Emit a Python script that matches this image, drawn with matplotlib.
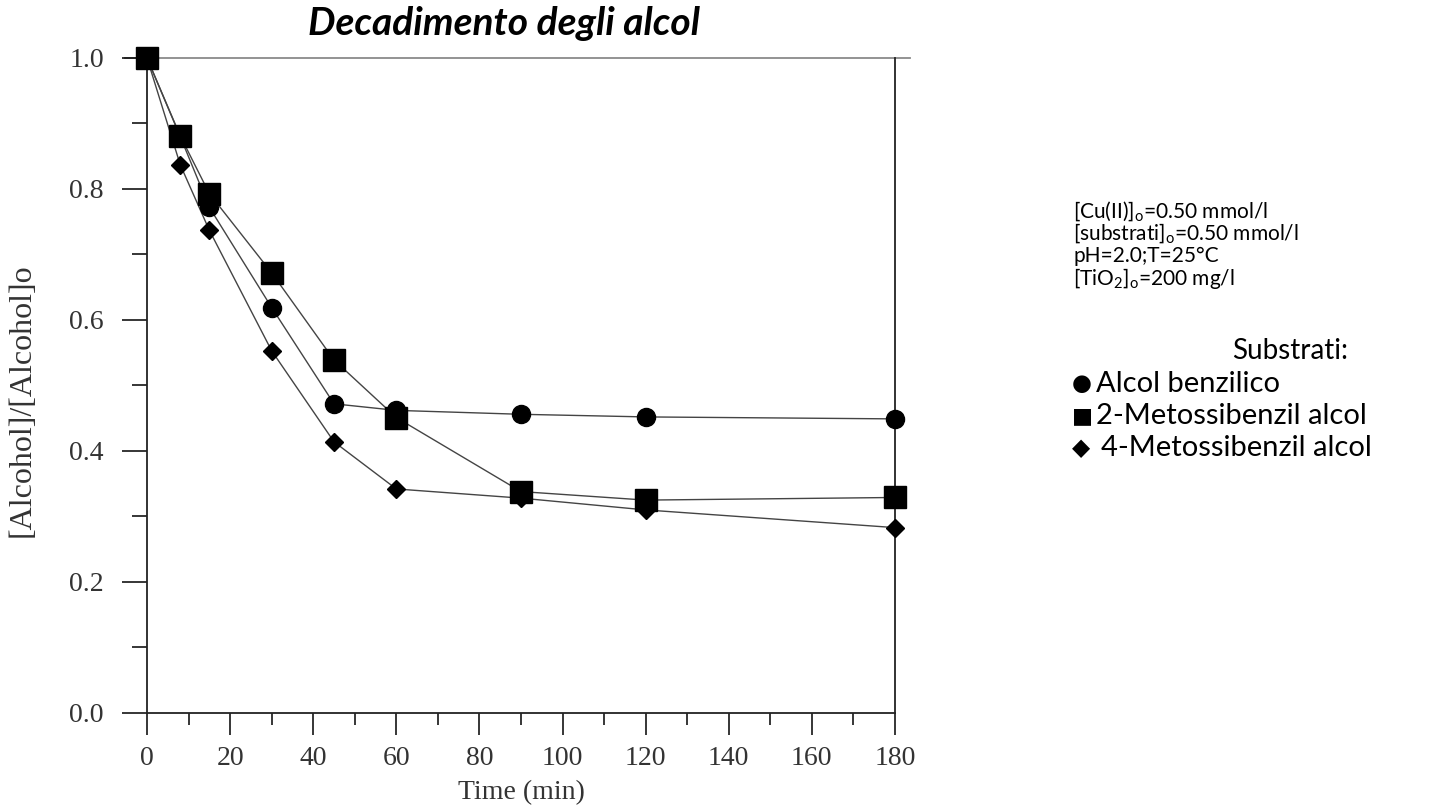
import matplotlib
matplotlib.use("Agg")
import matplotlib.pyplot as plt
from matplotlib.ticker import MultipleLocator

# data
time_min = [0, 8, 15, 30, 45, 60, 90, 120, 180]
alcol_benzilico = [1.0, 0.88, 0.772, 0.619, 0.472, 0.462, 0.456, 0.452, 0.449]
metossi_2 = [1.0, 0.881, 0.793, 0.672, 0.539, 0.451, 0.338, 0.325, 0.329]
metossi_4 = [1.0, 0.837, 0.737, 0.553, 0.414, 0.342, 0.328, 0.310, 0.283]

x_ticks = [0, 20, 40, 60, 80, 100, 120, 140, 160, 180]
y_ticks = [0.0, 0.2, 0.4, 0.6, 0.8, 1.0]

conditions = [
    "[Cu(II)]$_\\mathrm{o}$=0.50 mmol/l",
    "[substrati]$_\\mathrm{o}$=0.50 mmol/l",
    "pH=2.0;T=25°C",
    "[TiO$_\\mathrm{2}$]$_\\mathrm{o}$=200 mg/l",
]
legend_symbols = ["●", "■", "◆"]
legend_names = ["Alcol benzilico", "2-Metossibenzil alcol", "4-Metossibenzil alcol"]

plt.rcParams['mathtext.fontset'] = 'custom'
plt.rcParams['mathtext.rm'] = 'Lato'
plt.rcParams['mathtext.it'] = 'Lato:italic'

fig = plt.figure(figsize=(14.37, 8.10), dpi=100, facecolor='white')
ax = fig.add_axes([0.1023, 0.1198, 0.5205, 0.8086])

line_kw = dict(color='#444444', lw=1.0, mec='black', mfc='black', clip_on=False)
ax.plot(time_min, metossi_4, marker='D', ms=9.5, zorder=3, **line_kw)
ax.plot(time_min, alcol_benzilico, marker='o', ms=13, zorder=4, **line_kw)
ax.plot(time_min, metossi_2, marker='s', ms=15.5, zorder=5, **line_kw)

ax.set_xlim(0, 180)
ax.set_ylim(0, 1.0)
ax.set_xticks(x_ticks)
ax.set_yticks(y_ticks)
ax.set_yticklabels([f"{v:.1f}" for v in y_ticks])
ax.xaxis.set_minor_locator(MultipleLocator(10))
ax.yaxis.set_minor_locator(MultipleLocator(0.1))

for lab in ax.get_xticklabels() + ax.get_yticklabels():
    lab.set_fontfamily('Liberation Serif')
    lab.set_fontsize(20)
    lab.set_color('#333333')

ax.tick_params(axis='x', which='major', direction='out', length=16, width=1.1, pad=8)
ax.tick_params(axis='x', which='minor', direction='out', length=8.5, width=1.1)
ax.tick_params(axis='y', which='major', direction='out', length=18, width=1.1, pad=13)
ax.tick_params(axis='y', which='minor', direction='out', length=11, width=1.1)

for side in ['left', 'bottom', 'right']:
    ax.spines[side].set_linewidth(1.3)
    ax.spines[side].set_color('#222222')
ax.spines['top'].set_visible(False)
# gray top rule, running a bit past the right spine
ax.axhline(1.0, xmin=-0.03, xmax=1.02, color='#8a8a8a', lw=1.3, clip_on=False, zorder=0)

ax.set_xlabel("Time (min)", fontfamily='Liberation Serif', fontsize=20, color='#333333', labelpad=6)
fig.text(22 / 1437, 1 - 400 / 810, "[Alcohol]/[Alcohol]o", rotation=90, ha='center', va='center',
         fontfamily='Liberation Serif', fontsize=23, color='#333333')

fig.text(0.351, 0.971, "Decadimento degli alcol", ha='center', va='center',
         fontfamily='Lato', fontstyle='italic', fontweight='bold', fontsize=28)

for i, txt in enumerate(conditions):
    fig.text(0.7467, 0.7395 - i * 0.0278, txt, ha='left', va='center',
             fontfamily='Lato', fontsize=15)

fig.text(0.8977, 0.5667, "Substrati:", ha='center', va='center',
         fontfamily='Lato', fontsize=20)
sym_sizes = [16.5, 16, 17]
name_x = [0.7625, 0.7625, 0.7665]
for i, (sym, name) in enumerate(zip(legend_symbols, legend_names)):
    y = 0.526 - i * 0.0395
    fig.text(0.7460, y, sym, ha='left', va='center', fontfamily='DejaVu Sans', fontsize=sym_sizes[i])
    fig.text(name_x[i], y, name, ha='left', va='center', fontfamily='Lato', fontsize=21)

fig.savefig("out.png", dpi=100)
